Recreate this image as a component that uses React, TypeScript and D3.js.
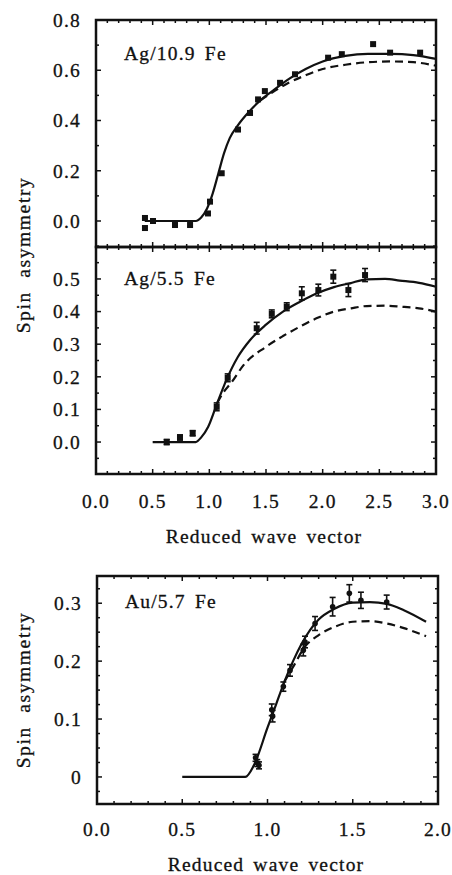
import React from "react";
import * as d3 from "d3";

// ---------- DATA ----------
// Panel A: Ag/10.9 Fe
const agThickPoints: [number, number][] = [
  [0.432, 0.012], [0.432, -0.028], [0.503, 0.0], [0.697, -0.016], [0.83, -0.016],
  [0.988, 0.03], [1.006, 0.077], [1.109, 0.19], [1.253, 0.364], [1.359, 0.43],
  [1.43, 0.484], [1.49, 0.517], [1.624, 0.55], [1.756, 0.584], [2.048, 0.65],
  [2.169, 0.664], [2.445, 0.704], [2.595, 0.67], [2.86, 0.67],
];
const agThickSolid: [number, number][] = [
  [0.43, 0], [0.88, 0], [0.93, 0.015], [0.98, 0.05], [1.03, 0.11], [1.08, 0.19],
  [1.13, 0.27], [1.18, 0.33], [1.25, 0.38], [1.35, 0.435], [1.45, 0.48], [1.55, 0.515],
  [1.7, 0.565], [1.85, 0.605], [2.0, 0.635], [2.2, 0.657], [2.4, 0.665], [2.6, 0.665],
  [2.8, 0.66], [3.0, 0.645],
];
const agThickDashed: [number, number][] = [
  [1.45, 0.48], [1.55, 0.51], [1.7, 0.55], [1.85, 0.58], [2.0, 0.605], [2.2, 0.622],
  [2.4, 0.632], [2.6, 0.635], [2.8, 0.632], [3.0, 0.618],
];

// Panel B: Ag/5.5 Fe
const agThinPoints: [number, number, number][] = [
  [0.624, 0.0, 0.008], [0.741, 0.014, 0.008], [0.853, 0.027, 0.008], [1.065, 0.108, 0.012],
  [1.162, 0.197, 0.012], [1.418, 0.349, 0.018], [1.551, 0.393, 0.012], [1.683, 0.415, 0.012],
  [1.816, 0.456, 0.02], [1.962, 0.466, 0.018], [2.094, 0.507, 0.02], [2.227, 0.466, 0.02],
  [2.374, 0.512, 0.02],
];
const agThinSolid: [number, number][] = [
  [0.5, 0], [0.88, 0], [0.93, 0.015], [0.99, 0.047], [1.07, 0.12], [1.15, 0.19],
  [1.25, 0.26], [1.36, 0.313], [1.5, 0.36], [1.65, 0.4], [1.8, 0.43], [1.95, 0.456],
  [2.1, 0.475], [2.24, 0.487], [2.39, 0.499], [2.55, 0.5], [2.68, 0.495], [2.85, 0.488],
  [3.0, 0.476],
];
const agThinDashed: [number, number][] = [
  [1.07, 0.12], [1.12, 0.15], [1.2, 0.185], [1.3, 0.235], [1.5, 0.292], [1.65, 0.325],
  [1.8, 0.354], [1.95, 0.38], [2.1, 0.4], [2.25, 0.41], [2.39, 0.417], [2.55, 0.418],
  [2.69, 0.415], [2.85, 0.41], [3.0, 0.4],
];

// Panel C: Au/5.7 Fe
const auPoints: [number, number, number][] = [
  [0.93, 0.033, 0.006], [0.94, 0.024, 0.006], [0.95, 0.02, 0.006], [1.025, 0.116, 0.01],
  [1.03, 0.105, 0.01], [1.093, 0.156, 0.008], [1.132, 0.184, 0.01], [1.21, 0.219, 0.01],
  [1.22, 0.233, 0.01], [1.279, 0.265, 0.012], [1.382, 0.294, 0.016], [1.48, 0.317, 0.015],
  [1.548, 0.305, 0.014], [1.699, 0.302, 0.012],
];
const auSolid: [number, number][] = [
  [0.5, 0], [0.87, 0], [0.92, 0.02], [1.0, 0.085], [1.05, 0.125], [1.1, 0.165],
  [1.15, 0.2], [1.2, 0.23], [1.3, 0.272], [1.39, 0.29], [1.5, 0.301], [1.6, 0.302],
  [1.7, 0.299], [1.8, 0.288], [1.93, 0.268],
];
const auDashed: [number, number][] = [
  [1.1, 0.165], [1.15, 0.19], [1.22, 0.225], [1.3, 0.245], [1.4, 0.26], [1.5, 0.268],
  [1.6, 0.269], [1.7, 0.265], [1.8, 0.257], [1.93, 0.243],
];

const xTicksWide = [0, 0.5, 1.0, 1.5, 2.0, 2.5, 3.0];
const xTicksNarrow = [0, 0.5, 1.0, 1.5, 2.0];
const yTicksA = [0.0, 0.2, 0.4, 0.6, 0.8];
const yTicksB = [0.0, 0.1, 0.2, 0.3, 0.4, 0.5];
const yTicksC = [0, 0.1, 0.2, 0.3];

const baseStyle: React.CSSProperties = {
  fontFamily: "'Liberation Serif', 'Times New Roman', serif",
  fontSize: 19.5,
  letterSpacing: "1.2px",
  wordSpacing: "3px",
};
const textProps = { fill: "#111", stroke: "#111", strokeWidth: 0.3, style: baseStyle };

type PanelProps = {
  x0: number; x1: number; y0: number; y1: number;
  xDomain: [number, number]; yDomain: [number, number];
  xMajor: number; xMinor: number; yMajor: number[]; yMinor: number;
  yFmt: (v: number) => string;
  label: string; labelY: number;
  solid: [number, number][]; dashed: [number, number][];
  points: [number, number, number][];
  marker: "square" | "circle";
};

function Panel(p: PanelProps) {
  const xs = d3.scaleLinear().domain(p.xDomain).range([p.x0, p.x1]);
  const ys = d3.scaleLinear().domain(p.yDomain).range([p.y1, p.y0]);
  const line = d3.line<[number, number]>().x(d => xs(d[0])).y(d => ys(d[1])).curve(d3.curveMonotoneX);
  const ticks: React.ReactElement[] = [];
  const eps = 1e-6;
  const xMinorVals = d3.range(p.xDomain[0], p.xDomain[1] + eps, p.xMinor);
  xMinorVals.forEach((v, i) => {
    const isMajor = Math.abs(v / p.xMajor - Math.round(v / p.xMajor)) < 1e-3;
    const L = isMajor ? 5 : 3;
    const x = xs(v);
    ticks.push(<line key={"xb" + i} x1={x} x2={x} y1={p.y1} y2={p.y1 - L} />);
    ticks.push(<line key={"xt" + i} x1={x} x2={x} y1={p.y0} y2={p.y0 + L} />);
  });
  const yStart = Math.ceil(p.yDomain[0] / p.yMinor - eps) * p.yMinor;
  const yMinorVals = d3.range(yStart, p.yDomain[1] + eps, p.yMinor);
  yMinorVals.forEach((v, i) => {
    const isMajor = p.yMajor.some(m => Math.abs(m - v) < 1e-4);
    const L = isMajor ? 5 : 3;
    const y = ys(v);
    ticks.push(<line key={"yl" + i} x1={p.x0} x2={p.x0 + L} y1={y} y2={y} />);
    ticks.push(<line key={"yr" + i} x1={p.x1} x2={p.x1 - L} y1={y} y2={y} />);
  });
  return (
    <g>
      <g stroke="#111" strokeWidth={1.5}>{ticks}</g>
      <path d={line(p.solid) || ""} fill="none" stroke="#111" strokeWidth={2.2} />
      <path d={line(p.dashed) || ""} fill="none" stroke="#111" strokeWidth={2.2} strokeDasharray="8,5" />
      <g fill="#111" stroke="#111">
        {p.points.map((d, i) => {
          const cx = xs(d[0]);
          const cy = ys(d[1]);
          const e = d[2];
          return (
            <g key={i}>
              {e > 0 && (
                <g strokeWidth={1.6}>
                  <line x1={cx} x2={cx} y1={ys(d[1] - e)} y2={ys(d[1] + e)} />
                  <line x1={cx - 3} x2={cx + 3} y1={ys(d[1] - e)} y2={ys(d[1] - e)} />
                  <line x1={cx - 3} x2={cx + 3} y1={ys(d[1] + e)} y2={ys(d[1] + e)} />
                </g>
              )}
              {p.marker === "square" ? (
                <rect x={cx - 3} y={cy - 3} width={6} height={6} stroke="none" />
              ) : (
                <circle cx={cx} cy={cy} r={2.8} stroke="none" />
              )}
            </g>
          );
        })}
      </g>
      <rect x={p.x0} y={p.y0} width={p.x1 - p.x0} height={p.y1 - p.y0} fill="none" stroke="#111" strokeWidth={2.5} />
      {p.yMajor.map((v, i) => (
        <text key={"yl" + i} x={p.x0 - 15} y={ys(v)} dy="0.35em" textAnchor="end" {...textProps}>
          {p.yFmt(v)}
        </text>
      ))}
      <text x={p.x0 + 28} y={p.labelY} {...textProps}>{p.label}</text>
    </g>
  );
}

export default function App() {
  const xWide = d3.scaleLinear().domain([0, 3]).range([96, 436]);
  const xNarrow = d3.scaleLinear().domain([0, 2]).range([97, 438]);
  const titleProps = { ...textProps, style: { ...baseStyle, letterSpacing: "1.6px", wordSpacing: "7px" } };
  return (
    <svg width={452} height={875} style={{ position: "absolute", left: 0, top: 0, background: "#fff" }}>
      <rect x={0} y={0} width={452} height={875} fill="#fff" />
      <Panel x0={96} x1={436} y0={20} y1={247} xDomain={[0, 3]} yDomain={[-0.1035, 0.8]}
        xMajor={0.5} xMinor={0.1} yMajor={yTicksA} yMinor={0.1} yFmt={d3.format(".1f")}
        label="Ag/10.9 Fe" labelY={60} solid={agThickSolid} dashed={agThickDashed}
        points={agThickPoints.map(d => [d[0], d[1], 0] as [number, number, number])} marker="square" />
      <Panel x0={96} x1={436} y0={247} y1={474} xDomain={[0, 3]} yDomain={[-0.098, 0.598]}
        xMajor={0.5} xMinor={0.1} yMajor={yTicksB} yMinor={0.05} yFmt={d3.format(".1f")}
        label="Ag/5.5 Fe" labelY={285} solid={agThinSolid} dashed={agThinDashed}
        points={agThinPoints} marker="square" />
      {xTicksWide.map((v, i) => (
        <text key={"xw" + i} x={xWide(v)} y={508} textAnchor="middle" {...textProps}>{d3.format(".1f")(v)}</text>
      ))}
      <text x={264} y={543} textAnchor="middle" {...textProps}>Reduced wave vector</text>
      <text transform="translate(30,255) rotate(-90)" textAnchor="middle" {...titleProps}>Spin asymmetry</text>

      <Panel x0={97} x1={438} y0={576} y1={804} xDomain={[0, 2]} yDomain={[-0.0467, 0.347]}
        xMajor={0.5} xMinor={0.1} yMajor={yTicksC} yMinor={0.025} yFmt={v => (v === 0 ? "0" : d3.format(".1f")(v))}
        label="Au/5.7 Fe" labelY={608} solid={auSolid} dashed={auDashed}
        points={auPoints} marker="circle" />
      {xTicksNarrow.map((v, i) => (
        <text key={"xn" + i} x={xNarrow(v)} y={836} textAnchor="middle" {...textProps}>{d3.format(".1f")(v)}</text>
      ))}
      <text x={266} y={871} textAnchor="middle" {...textProps}>Reduced wave vector</text>
      <text transform="translate(30,690) rotate(-90)" textAnchor="middle" {...titleProps}>Spin asymmetry</text>
    </svg>
  );
}
